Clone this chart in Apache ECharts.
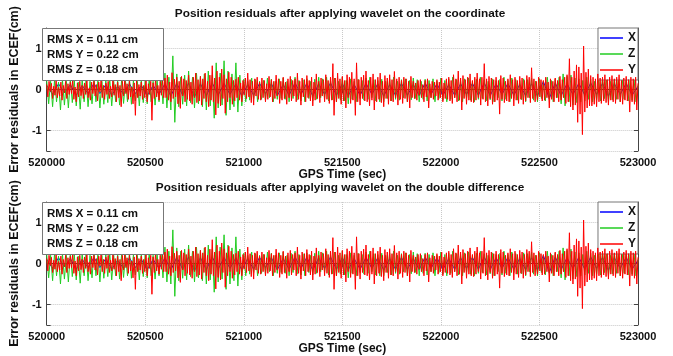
<!DOCTYPE html>
<html>
<head>
<meta charset="UTF-8">
<title>Position residuals</title>
<script src="https://cdn.jsdelivr.net/npm/echarts@6/dist/echarts.min.js"></script>
<style>
html, body { margin: 0; padding: 0; background: #fff; }
#chart { width: 673px; height: 356px; }
</style>
</head>
<body>
<div id="chart"></div>
<script>
// GPS time axis
var t0 = 520000;
var xMin = 520000, xMax = 523000, xStep = 500;
var yTicks = [-1, 0, 1];
// sample spacing of each series (sec)
var dtX = 30, dtZ = 10, dtY = 6;

var titles = [
	'Position residuals after applying wavelet on the coordinate',
	'Position residuals after applying wavelet on the double difference'
];
var rmsLines = ['RMS X = 0.11 cm', 'RMS Y = 0.22 cm', 'RMS Z = 0.18 cm'];
var names = ['X', 'Z', 'Y'];

// residuals (cm)
var resX = [
	0.1,-0.12,0.14,-0.08,0.12,-0.14,0.1,-0.1,0.15,-0.1,
	0.12,-0.14,0.08,-0.12,0.14,-0.1,0.1,-0.15,0.1,-0.12,
	0.14,-0.16,0.15,-0.14,0.16,-0.18,0.14,-0.15,0.16,-0.14,
	0.15,-0.12,0.14,-0.16,0.12,-0.14,0.15,-0.1,0.14,-0.15,
	0.12,-0.14,0.16,-0.12,0.15,-0.16,0.14,-0.12,0.16,-0.14,
	0.14,-0.15,0.12,-0.14,0.15,-0.12,0.14,-0.16,0.12,-0.14,
	0.15,-0.14,0.12,-0.15,0.16,-0.12,0.14,-0.15,0.12,-0.14,
	0.14,-0.12,0.15,-0.14,0.16,-0.15,0.14,-0.12,0.15,-0.14,
	0.12,-0.15,0.14,-0.16,0.2,-0.22,0.16,-0.15,0.14,-0.12,
	0.15,-0.14,0.16,-0.12,0.15,-0.16,0.14,-0.12,0.15,-0.14,
	0.08
];
var resZ = [
	0.22,-0.35,0.2,-0.42,0.25,-0.3,0.18,-0.5,0.24,-0.38,
	0.2,-0.45,0.26,-0.32,0.22,-0.4,0.18,-0.48,0.25,-0.3,
	0.24,-0.42,0.2,-0.35,0.26,-0.3,0.22,-0.45,0.2,-0.36,
	0.22,-0.32,0.25,-0.4,0.2,-0.3,0.24,-0.38,0.22,-0.34,
	0.2,-0.3,0.26,-0.36,0.22,-0.28,0.2,-0.4,0.24,-0.32,
	0.22,-0.35,0.25,-0.3,0.2,-0.38,0.24,-0.3,0.28,-0.35,
	0.4,-0.45,0.3,-0.5,0.82,-0.8,0.38,-0.42,0.3,-0.36,
	0.35,-0.4,0.45,-0.32,0.3,-0.45,0.4,-0.35,0.32,-0.42,
	0.38,-0.5,0.45,-0.4,0.35,-0.7,0.65,-0.45,0.4,-0.38,
	0.7,-0.63,0.45,-0.5,0.38,-0.42,0.65,-0.55,0.35,-0.4,
	0.25,-0.3,0.2,-0.26,0.28,-0.22,0.24,-0.3,0.2,-0.24,
	0.22,-0.26,0.28,-0.2,0.25,-0.3,0.2,-0.24,0.26,-0.22,
	0.28,-0.24,0.2,-0.3,0.25,-0.22,0.3,-0.26,0.22,-0.28,
	0.24,-0.3,0.26,-0.22,0.2,-0.28,0.25,-0.24,0.3,-0.2,
	0.26,-0.22,0.3,-0.28,0.22,-0.25,0.28,-0.3,0.2,-0.26,
	0.3,-0.28,0.22,-0.35,0.26,-0.24,0.2,-0.3,0.25,-0.22,
	0.22,-0.26,0.28,-0.24,0.3,-0.2,0.24,-0.28,0.22,-0.3,
	0.25,-0.3,0.2,-0.22,0.26,-0.28,0.3,-0.24,0.2,-0.26,
	0.24,-0.2,0.26,-0.3,0.22,-0.25,0.28,-0.22,0.24,-0.3,
	0.2,-0.24,0.25,-0.28,0.22,-0.2,0.26,-0.3,0.2,-0.22,
	0.28,-0.26,0.22,-0.3,0.25,-0.24,0.3,-0.2,0.24,-0.28,
	0.22,-0.3,0.26,-0.22,0.28,-0.26,0.2,-0.3,0.25,-0.24,
	0.3,-0.22,0.24,-0.28,0.2,-0.25,0.26,-0.3,0.22,-0.2,
	0.25,-0.28,0.3,-0.24,0.22,-0.3,0.28,-0.22,0.24,-0.26,
	0.22,-0.25,0.26,-0.3,0.24,-0.2,0.28,-0.26,0.2,-0.3,
	0.26,-0.22,0.2,-0.28,0.3,-0.24,0.22,-0.3,0.25,-0.2,
	0.3,-0.35,0.38,-0.4,0.32,-0.3,0.35,-0.38,0.28,-0.32,
	0.26,-0.3,0.22,-0.28,0.3,-0.24,0.25,-0.3,0.2,-0.26,
	0.24,-0.28,0.3,-0.22,0.26,-0.3,0.2,-0.25,0.28,-0.24,
	0.22,-0.3,0.25,-0.24,0.3,-0.28,0.22,-0.26,0.24,-0.3,
	0.1
];
var resY = [
	0.12,-0.18,0.2,-0.05,0.15,-0.22,0.08,-0.14,0.22,-0.2,
	0.05,-0.16,0.18,-0.26,0.1,-0.08,0.2,-0.22,0.14,-0.12,
	0.18,-0.1,0.22,-0.24,0.06,-0.3,0.16,-0.18,0.2,-0.15,
	0.1,-0.22,0.16,-0.12,0.22,-0.2,0.04,-0.26,0.18,-0.1,
	0.2,-0.16,0.12,-0.28,0.18,-0.06,0.22,-0.2,0.1,-0.24,
	0.16,-0.12,0.2,-0.22,0.08,-0.18,0.24,-0.14,0.12,-0.3,
	0.18,-0.2,0.1,-0.42,0.2,-0.16,0.22,-0.1,0.14,-0.24,
	0.2,-0.18,0.06,-0.35,0.16,-0.63,0.22,-0.2,0.12,-0.16,
	0.18,-0.24,0.1,-0.2,0.22,-0.3,0.14,-0.12,0.2,-0.75,
	0.16,-0.22,0.24,-0.18,0.1,-0.26,0.2,-0.14,0.22,-0.2,
	0.28,-0.2,0.35,-0.26,0.18,-0.3,0.41,-0.22,0.25,-0.18,
	0.3,-0.35,0.2,-0.46,0.32,-0.16,0.26,-0.3,0.22,-0.24,
	0.35,-0.28,0.18,-0.36,0.3,-0.2,0.4,-0.32,0.24,-0.28,
	0.32,-0.38,0.26,-0.22,0.4,-0.3,0.2,-0.42,0.35,-0.26,
	0.58,-0.3,0.28,-0.62,0.45,-0.34,0.3,-0.4,0.5,-0.22,
	0.36,-0.58,0.26,-0.3,0.42,-0.2,0.3,-0.36,0.22,-0.28,
	0.25,-0.2,0.3,-0.26,0.16,-0.3,0.22,-0.14,0.28,-0.22,
	0.4,-0.18,0.24,-0.32,0.2,-0.38,0.26,-0.16,0.3,-0.24,
	0.18,-0.26,0.28,-0.2,0.22,-0.3,0.14,-0.24,0.32,-0.18,
	0.24,-0.3,0.2,-0.22,0.35,-0.16,0.26,-0.34,0.2,-0.26,
	0.3,-0.22,0.18,-0.36,0.26,-0.2,0.32,-0.28,0.22,-0.16,
	0.26,-0.3,0.4,-0.24,0.2,-0.38,0.28,-0.18,0.24,-0.3,
	0.34,-0.2,0.22,-0.28,0.3,-0.4,0.18,-0.26,0.38,-0.22,
	0.2,-0.32,0.28,-0.16,0.24,-0.3,0.36,-0.24,0.22,-0.34,
	0.3,-0.26,0.63,-0.63,0.28,-0.3,0.4,-0.22,0.26,-0.36,
	0.32,-0.28,0.22,-0.45,0.36,-0.2,0.3,-0.34,0.42,-0.26,
	0.26,-0.63,0.65,-0.3,0.24,-0.38,0.3,-0.22,0.35,-0.28,
	0.45,-0.3,0.22,-0.4,0.3,-0.26,0.38,-0.5,0.24,-0.3,
	0.3,-0.24,0.4,-0.32,0.2,-0.42,0.34,-0.22,0.28,-0.36,
	0.36,-0.28,0.24,-0.3,0.44,-0.2,0.26,-0.38,0.3,-0.24,
	0.22,-0.34,0.3,-0.22,0.26,-0.3,0.2,-0.45,0.32,-0.2,
	0.2,-0.22,0.16,-0.26,0.22,-0.14,0.24,-0.2,0.12,-0.3,
	0.22,-0.18,0.26,-0.45,0.14,-0.2,0.2,-0.24,0.18,-0.16,
	0.24,-0.26,0.18,-0.2,0.28,-0.3,0.16,-0.22,0.26,-0.24,
	0.3,-0.28,0.22,-0.34,0.36,-0.2,0.26,-0.3,0.45,-0.26,
	0.28,-0.5,0.34,-0.22,0.24,-0.36,0.3,-0.26,0.38,-0.3,
	0.22,-0.32,0.3,-0.26,0.4,-0.2,0.26,-0.38,0.3,-0.24,
	0.63,-0.3,0.26,-0.4,0.32,-0.22,0.28,-0.36,0.24,-0.3,
	0.3,-0.26,0.22,-0.6,0.34,-0.24,0.28,-0.32,0.2,-0.28,
	0.26,-0.3,0.36,-0.22,0.24,-0.4,0.3,-0.26,0.22,-0.34,
	0.32,-0.24,0.28,-0.36,0.22,-0.28,0.34,-0.2,0.3,-0.32,
	0.53,-0.22,0.26,-0.3,0.2,-0.26,0.3,-0.18,0.24,-0.28,
	0.22,-0.26,0.3,-0.2,0.18,-0.45,0.26,-0.24,0.2,-0.3,
	0.28,-0.2,0.22,-0.3,0.32,-0.26,0.24,-0.2,0.3,-0.34,
	0.36,-0.3,0.75,-0.42,0.3,-0.5,0.45,-0.38,0.6,-0.8,
	0.55,-0.6,0.4,-1.1,1.06,-0.55,0.42,-0.45,0.5,-0.4,
	0.34,-0.4,0.3,-0.36,0.26,-0.42,0.38,-0.3,0.28,-0.34,
	0.3,-0.28,0.36,-0.32,0.24,-0.38,0.3,-0.26,0.34,-0.3,
	0.26,-0.34,0.3,-0.24,0.36,-0.3,0.22,-0.36,0.28,-0.26,
	0.32,-0.28,0.24,-0.55,0.3,-0.3,0.26,-0.36,0.3,-0.5,
	0.15
];

var font = "'Liberation Sans', Arial, sans-serif";
var colors = ['#0000ff', '#22cc22', '#ff0000'];
var gridTops = [28, 202];

function pairs(vals, dt) {
	return vals.map(function(v, i) { return [t0 + i * dt, v]; });
}

var option = {
	animation: false,
	backgroundColor: '#fff',
	color: colors,
	textStyle: { fontFamily: font },
	title: [],
	legend: [],
	grid: [],
	xAxis: [],
	yAxis: [],
	series: []
};

gridTops.forEach(function(top, g) {
	option.grid.push({ left: 42, top: top, width: 596, height: 123 });
	// main title
	option.title.push({
		text: titles[g], left: 340, textAlign: 'center', top: top - 20, padding: 0,
		textStyle: { fontSize: 11.8, fontWeight: 'bold', color: '#111', fontFamily: font }
	});
	// RMS box
	option.title.push({
		text: rmsLines.join('\n'), left: 42, top: top, padding: [4, 25, 4, 5],
		backgroundColor: '#fff', borderColor: '#777', borderWidth: 1,
		textStyle: { fontSize: 11.5, fontWeight: 'bold', color: '#111', lineHeight: 15, fontFamily: font }
	});
	option.legend.push({
		data: names, orient: 'vertical', right: 35, top: top,
		icon: 'rect', itemWidth: 23, itemHeight: 1.5, itemGap: 2,
		padding: [3, 2, 3, 2],
		backgroundColor: '#fff', borderColor: '#777', borderWidth: 1,
		textStyle: { fontSize: 12, fontWeight: 'bold', color: '#111', lineHeight: 14, fontFamily: font }
	});
	// bottom and top x axes
	option.xAxis.push({
		type: 'value', gridIndex: g, min: xMin, max: xMax, interval: xStep,
		name: 'GPS Time (sec)', nameLocation: 'middle', nameGap: 17,
		nameTextStyle: { fontSize: 12, fontWeight: 'bold', color: '#111', fontFamily: font },
		axisLine: { lineStyle: { color: '#444', width: 1 } },
		axisTick: { inside: true, length: 4, lineStyle: { color: '#444' } },
		axisLabel: {
			fontSize: 11, fontWeight: 'bold', color: '#111', margin: 6, fontFamily: font,
			formatter: function(v) { return String(v); }
		},
		splitLine: { show: true, lineStyle: { color: '#c8c8c8', type: 'dotted' } }
	});
	option.xAxis.push({
		type: 'value', gridIndex: g, position: 'top', min: xMin, max: xMax, interval: xStep,
		axisLine: { lineStyle: { color: '#444', width: 1 } },
		axisTick: { inside: true, length: 4, lineStyle: { color: '#444' } },
		axisLabel: { show: false }, splitLine: { show: false }
	});
	// left and right y axes
	option.yAxis.push({
		type: 'value', gridIndex: g, min: -1.5, max: 1.5, splitNumber: 3,
		name: 'Error residuals in ECEF(cm)', nameLocation: 'middle', nameGap: 16,
		nameTextStyle: { fontSize: 12.5, fontWeight: 'bold', color: '#111', fontFamily: font },
		axisLine: { show: true, lineStyle: { color: '#444', width: 1 } },
		axisTick: { show: true, inside: true, length: 4, lineStyle: { color: '#444' } },
		axisLabel: {
			fontSize: 11, fontWeight: 'bold', color: '#111', margin: 5, fontFamily: font,
			formatter: function(v) { return yTicks.indexOf(v) >= 0 ? String(v) : ''; }
		},
		splitLine: { show: true, lineStyle: { color: '#c8c8c8', type: 'dotted' } }
	});
	option.yAxis.push({
		type: 'value', gridIndex: g, position: 'right', min: -1.5, max: 1.5, splitNumber: 3,
		axisLine: { show: true, lineStyle: { color: '#444', width: 1 } },
		axisTick: { show: true, inside: true, length: 4, lineStyle: { color: '#444' } },
		axisLabel: { show: false }, splitLine: { show: false }
	});
	[[resX, dtX], [resZ, dtZ], [resY, dtY]].forEach(function(s, k) {
		option.series.push({
			name: names[k], type: 'line', xAxisIndex: 2 * g, yAxisIndex: 2 * g,
			data: pairs(s[0], s[1]), showSymbol: false, symbol: 'none',
			lineStyle: { width: 1, color: colors[k] }, itemStyle: { color: colors[k] },
			z: 2 + k
		});
	});
});

var chart = echarts.init(document.getElementById('chart'));
chart.setOption(option);
</script>
</body>
</html>
